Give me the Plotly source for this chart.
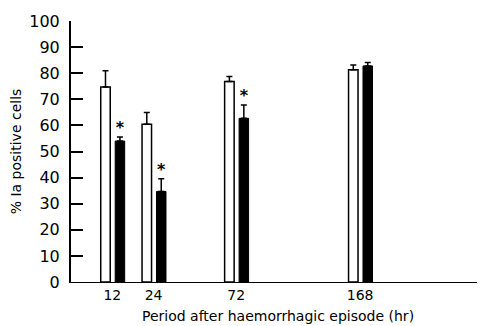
import plotly.graph_objects as go

# Data
time_labels = ["12", "24", "72", "168"]
group_pos = [1, 2, 4, 7]          # ordinal slot positions along the x axis
control_vals = [74.7, 60.4, 76.8, 81.3]
control_err = [6.2, 4.5, 1.9, 1.8]
haem_vals = [54.0, 34.7, 62.7, 82.8]
haem_err = [1.6, 4.9, 5.1, 1.3]
significant = [True, True, True, False]
y_ticks = list(range(0, 101, 10))

font_family = "DejaVu Sans, Verdana, sans-serif"

fig = go.Figure()
fig.add_trace(go.Bar(
    x=group_pos, y=control_vals, width=0.23, offset=-0.28,
    marker=dict(color="white", line=dict(color="black", width=1.5)),
    error_y=dict(type="data", symmetric=False, array=control_err,
                 arrayminus=[0] * len(control_err), color="black",
                 thickness=1.5, width=3),
    showlegend=False,
))
fig.add_trace(go.Bar(
    x=group_pos, y=haem_vals, width=0.23, offset=0.07,
    marker=dict(color="black", line=dict(color="black", width=1)),
    error_y=dict(type="data", symmetric=False, array=haem_err,
                 arrayminus=[0] * len(haem_err), color="black",
                 thickness=1.5, width=3),
    showlegend=False,
))

star_x = [p + 0.185 for p, s in zip(group_pos, significant) if s]
star_y = [v + e for v, e, s in zip(haem_vals, haem_err, significant) if s]
fig.add_trace(go.Scatter(
    x=star_x, y=star_y, mode="text", text=["<b>*</b>"] * len(star_x),
    textposition="top center",
    textfont=dict(size=16, color="black", family=font_family),
    showlegend=False, hoverinfo="skip",
))

fig.update_layout(
    width=477, height=318,
    margin=dict(l=63, r=1, t=13, b=44),
    plot_bgcolor="white", paper_bgcolor="white",
    font=dict(family=font_family, color="black"),
    barmode="overlay",
    annotations=[dict(
        text="Period after haemorrhagic episode (hr)",
        xref="paper", yref="paper", x=0.5, y=-0.13,
        xanchor="center", yanchor="middle", showarrow=False,
        font=dict(size=14, color="black", family=font_family),
    )],
)
fig.update_xaxes(
    range=[0, 10], tickvals=group_pos, ticktext=time_labels,
    ticks="", showline=True, linecolor="black", linewidth=1,
    showgrid=False, zeroline=False,
    tickfont=dict(size=14), ticklabelstandoff=0,
)
fig.update_yaxes(
    range=[0, 100], tickvals=y_ticks,
    ticks="inside", ticklen=12, tickwidth=2, tickcolor="black",
    showline=True, linecolor="black", linewidth=2,
    showgrid=False, zeroline=False,
    tickfont=dict(size=16), ticklabelstandoff=6,
    title=dict(text="% Ia positive cells", font=dict(size=14), standoff=8),
)

fig.write_html("out.html")
